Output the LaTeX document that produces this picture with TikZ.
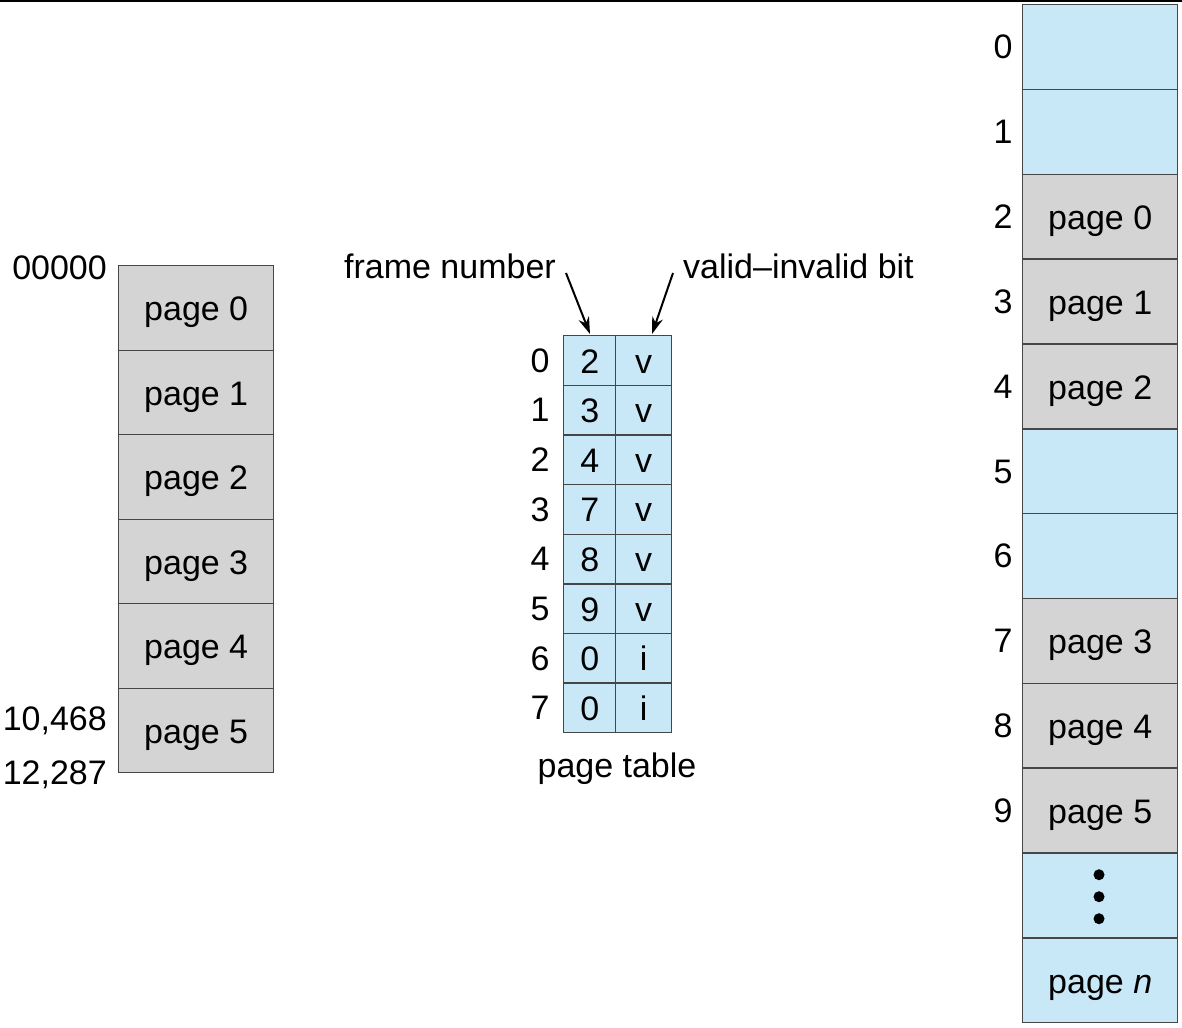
\documentclass[tikz,border=0pt]{standalone}
\usepackage{fontspec}
\setmainfont{Liberation Sans}
\usetikzlibrary{arrows.meta}
\definecolor{cellblue}{RGB}{200,232,248}
\definecolor{cellgray}{RGB}{212,212,212}
\definecolor{edgegray}{RGB}{70,70,70}
\begin{document}
\begin{tikzpicture}[x=1pt,y=-1pt,
  every node/.style={font=\fontsize{34}{40}\selectfont, inner sep=0pt},
  cellbase/.style={draw=edgegray, line width=1.4pt, rectangle, anchor=north west},
  lpage/.style={cellbase, fill=cellgray, minimum width=155pt, minimum height=84.5pt},
  fpage/.style={cellbase, fill=cellgray, minimum width=155pt, minimum height=84.83pt},
  ffree/.style={cellbase, fill=cellblue, minimum width=155pt, minimum height=84.83pt},
  ptnum/.style={cellbase, fill=cellblue, minimum width=52pt, minimum height=49.625pt},
  ptbit/.style={cellbase, fill=cellblue, minimum width=56pt, minimum height=49.625pt},
  txt/.style={anchor=base},
  ptr/.style={line width=2pt, -{Stealth[length=17pt,width=11pt]}}
]
\useasboundingbox (0,0) rectangle (1182,1027);
\fill[white] (0,0) rectangle (1182,1027);
\draw[line width=2.5pt] (0,1) -- (1182,1);

% logical memory
\foreach \i in {0,...,5}{
  \node[lpage] (L\i) at (118,{265+84.5*\i}) {};
  \node[txt] (LT\i) at ([yshift=-13pt]L\i.center) {page \i};
}
\node[anchor=base east] (a0) at (107,279) {00000};
\node[anchor=base east] (a1) at (107,730) {10,468};
\node[anchor=base east] (a2) at (107,784) {12,287};

% page table
\foreach \i/\f/\b in {0/2/v,1/3/v,2/4/v,3/7/v,4/8/v,5/9/v,6/0/i,7/0/i}{
  \node[ptnum] (N\i) at (563,{335+49.625*\i}) {};
  \node[txt] (NT\i) at ([yshift=-12.5pt]N\i.center) {\f};
  \node[ptbit] (B\i) at (615,{335+49.625*\i}) {};
  \node[txt] (BT\i) at ([yshift=-12.5pt]B\i.center) {\b};
  \node[txt] (R\i) at (540,{335+49.625*\i+24.8+12.5}) {\i};
}
\node[txt] (pt) at (617,777) {page table};
\node[anchor=base east] (fn) at (556,278) {frame number};
\node[anchor=base west] (vib) at (683,278) {valid--invalid bit};
\coordinate (fnS) at (566,273);
\coordinate (fnE) at (590,334);
\coordinate (vbS) at (673,273);
\coordinate (vbE) at (652,334);
\draw[ptr] (fnS) -- (fnE);
\draw[ptr] (vbS) -- (vbE);

% physical memory
\foreach \i/\s/\t in {0/ffree/,1/ffree/,2/fpage/page 0,3/fpage/page 1,4/fpage/page 2,5/ffree/,6/ffree/,7/fpage/page 3,8/fpage/page 4,9/fpage/page 5}{
  \node[\s] (F\i) at (1022,{4+84.83*\i}) {};
  \node[txt] (FT\i) at ([yshift=-13pt]F\i.center) {\t};
  \node[txt] (FL\i) at (1003,{4+84.83*\i+42.4+12.5}) {\i};
}
\node[ffree] (F10) at (1022,{4+84.83*10}) {};
\node[ffree] (F11) at (1022,{4+84.83*11}) {};
\node[txt] (FT11) at ([yshift=-13pt]F11.center) {page \textit{n}};
\foreach \y in {-22,0,22}{
  \fill (1099,{4+84.83*10.5+\y+2}) circle (5.5pt);
}
\end{tikzpicture}
\end{document}
